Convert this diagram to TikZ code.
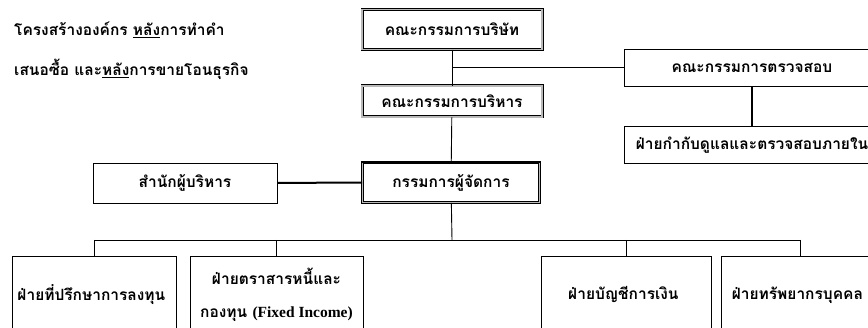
\documentclass[tikz,border=0pt]{standalone}
\usepackage{fontspec}
\newfontfamily\thaifont[Script=Thai]{Loma}
\newfontfamily\latinfont{Liberation Serif}
\tikzset{
  orgbox/.style = { draw, line width=0.9pt, fill=white, inner sep=0pt,
    font=\thaifont\bfseries\fontsize{15.5}{17}\selectfont },
  shadowbox/.style = { orgbox, double=gray!55, double distance=1.2pt },
  deptbox/.style = { orgbox, minimum height=78pt, align=center,
    font=\thaifont\bfseries\fontsize{15.5}{33}\selectfont }
}
\begin{document}
\begin{tikzpicture}[ x=1pt, y=-1pt ]
  \useasboundingbox [ fill=white ] (0,0) rectangle (868,328);
  \clip (0,0) rectangle (868,328);
  % title
  \node (title) [ anchor=north west, align=left, inner sep=0pt,
    font=\thaifont\bfseries\fontsize{15.5}{40}\selectfont ] at (14,22)
    { โครงสร้างองค์กร \underline{หลัง}การทำคำ\\
      เสนอซื้อ และ\underline{หลัง}การขายโอนธุรกิจ };
  % boards
  \node (board) [ shadowbox, minimum width=180pt, minimum height=40pt ] at (452,29.5) { คณะกรรมการบริษัท };
  \node (exec) [ shadowbox, minimum width=180pt, minimum height=31pt ] at (452,101.5) { คณะกรรมการบริหาร };
  \node (audit) [ orgbox, minimum width=255pt, minimum height=37pt ] at (752,67.5) { คณะกรรมการตรวจสอบ };
  \node (internal) [ orgbox, minimum width=255pt, minimum height=37pt ] at (752,145) { ฝ่ายกำกับดูแลและตรวจสอบภายใน };
  \node (manager) [ shadowbox, minimum width=177pt, minimum height=40pt ] at (451,182.5) { กรรมการผู้จัดการ };
  \draw [ line width=2.2pt ] (manager.north west) -- (manager.north east);
  \node (office) [ orgbox, minimum width=184pt, minimum height=40pt ] at (185,183) { สำนักผู้บริหาร };
  % departments
  \node (invest) [ deptbox, minimum width=164pt ] at (94,295) { ฝ่ายที่ปรึกษาการลงทุน };
  \node (fixed) [ deptbox, minimum width=173pt ] at (276.5,295) { ฝ่ายตราสารหนี้และ\\ กองทุน {\latinfont\bfseries (Fixed Income)} };
  \node (account) [ deptbox, minimum width=170pt ] at (626,295) { ฝ่ายบัญชีการเงิน };
  \node (hr) [ deptbox, minimum width=158pt ] at (800,295) { ฝ่ายทรัพยากรบุคคล };
  % connectors
  \coordinate (bus) at (452,240);
  \draw [ line width=0.9pt ] (board) -- (exec);
  \draw [ line width=0.9pt ] (board.south |- audit.west) -- (audit.west);
  \draw [ line width=2pt ] (audit) -- (internal);
  \draw [ line width=0.9pt ] (exec) -- (manager);
  \draw [ line width=2pt ] (office) -- (manager);
  \draw [ line width=0.9pt ] (manager) -- (bus);
  \draw [ line width=0.9pt ] (invest.north |- bus) -- (hr.north |- bus);
  \draw [ line width=0.9pt ] (invest.north |- bus) -- (invest.north);
  \draw [ line width=0.9pt ] (fixed.north |- bus) -- (fixed.north);
  \draw [ line width=0.9pt ] (account.north |- bus) -- (account.north);
  \draw [ line width=0.9pt ] (hr.north |- bus) -- (hr.north);
\end{tikzpicture}
\end{document}
